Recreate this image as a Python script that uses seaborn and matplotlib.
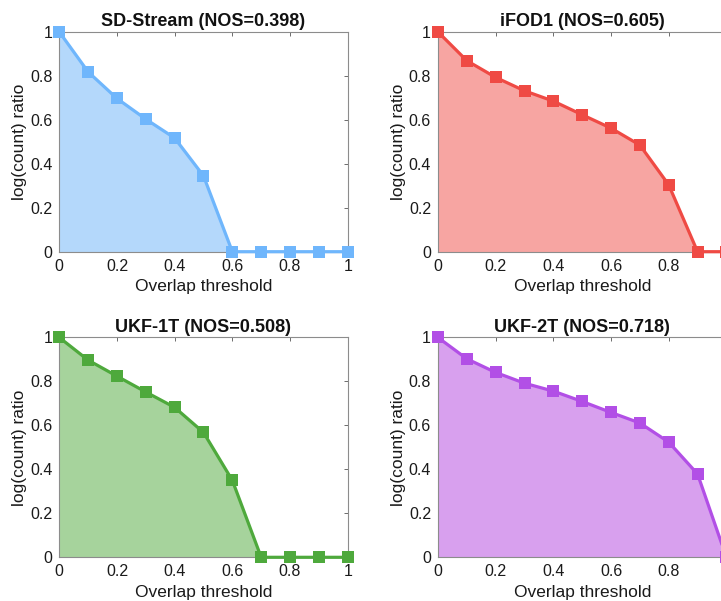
import numpy as np
import pandas as pd
import matplotlib
matplotlib.use("Agg")
import matplotlib.pyplot as plt
import seaborn as sns

thresholds = [0.0, 0.1, 0.2, 0.3, 0.4, 0.5, 0.6, 0.7, 0.8, 0.9, 1.0]
sd_stream = [1.0, 0.818, 0.697, 0.603, 0.517, 0.345, 0.0, 0.0, 0.0, 0.0, 0.0]
ifod1 = [1.0, 0.869, 0.793, 0.732, 0.685, 0.623, 0.562, 0.485, 0.304, 0.0, 0.0]
ukf1t = [1.0, 0.897, 0.824, 0.752, 0.682, 0.568, 0.350, 0.0, 0.0, 0.0, 0.0]
ukf2t = [1.0, 0.903, 0.841, 0.792, 0.756, 0.709, 0.659, 0.611, 0.524, 0.379, 0.0]

titles = ["SD-Stream (NOS=0.398)", "iFOD1 (NOS=0.605)",
          "UKF-1T (NOS=0.508)", "UKF-2T (NOS=0.718)"]
series = [sd_stream, ifod1, ukf1t, ukf2t]
line_colors = ["#6fb6fc", "#ef4a44", "#4ea93c", "#b24fe6"]
fill_colors = ["#b4d8fb", "#f7a5a2", "#a6d39c", "#d8a0ee"]
yticks = [0, 0.2, 0.4, 0.6, 0.8, 1.0]
xticks = [0, 0.2, 0.4, 0.6, 0.8, 1.0]

sns.set_theme(style="white")
plt.rcParams['font.family'] = ['Liberation Sans', 'DejaVu Sans']

W, H = 721, 601
fig = plt.figure(figsize=(W / 100, H / 100), dpi=100)

positions = [
    (59.3, 251.7),
    (438.0, 251.7),
    (59.3, 557.3),
    (438.0, 557.3),
]
aw, ah = 288.4, 219.8

def fmt(v):
    return "0" if v == 0 else ("1" if v == 1 else f"{v:.1f}")

for i, ((x0, y0), title, vals, lc, fc) in enumerate(zip(positions, titles, series, line_colors, fill_colors)):
    ax = fig.add_axes([x0 / W, (H - y0) / H, aw / W, ah / H])
    df = pd.DataFrame({"x": thresholds, "y": vals})
    ax.fill_between(df["x"], df["y"], 0, color=fc, linewidth=0, zorder=1)
    sns.lineplot(data=df, x="x", y="y", ax=ax, color=lc, linewidth=2.3,
                 marker="s", markersize=8, markeredgewidth=0, zorder=3,
                 clip_on=False)
    ax.set_xlim(0, 1)
    ax.set_ylim(0, 1)
    right_col = (i % 2 == 1)
    ax.set_xticks(xticks)
    ax.set_xticklabels([("" if (right_col and v == 1) else fmt(v)) for v in xticks])
    ax.set_yticks(yticks)
    ax.set_yticklabels([fmt(v) for v in yticks])
    ax.tick_params(direction="in", length=3, width=0.6, color="#555555",
                   labelsize=11.5, labelcolor="#1a1a1a", top=True, right=True,
                   pad=5)
    for s in ax.spines.values():
        s.set_color("#8c8c8c")
        s.set_linewidth(0.8)
    ax.set_xlabel("Overlap threshold", fontsize=12.5, color="#1a1a1a", labelpad=4)
    ax.set_ylabel("log(count) ratio", fontsize=12.5, color="#1a1a1a", labelpad=2)
    ax.set_title(title, fontsize=13, fontweight="bold", color="#111111", pad=4)

fig.savefig("out.png", dpi=100)
